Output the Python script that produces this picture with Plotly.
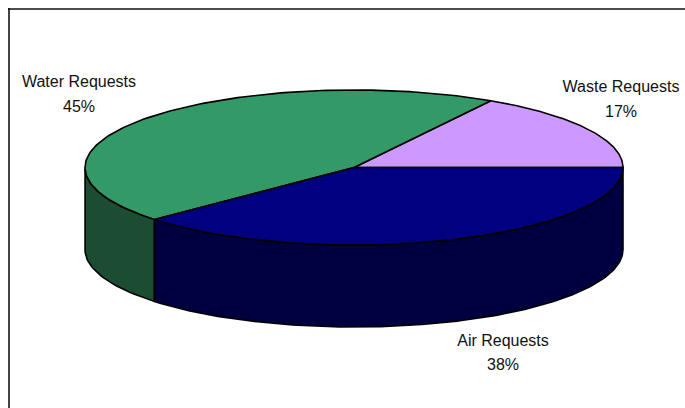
import numpy as np
import plotly.graph_objects as go

categories = ["Waste Requests", "Water Requests", "Air Requests"]
values = [16.51, 45.19, 38.3]
top_colors = ["#CC99FF", "#339966", "#000080"]
side_colors = ["#664D80", "#1C4D33", "#000040"]
label_x = [621, 79, 503]
name_y = [88, 83, 342]
pct_y = [113, 108, 366]

CX, CY, RX, RY, DEPTH = 354, 167.5, 269, 77.5, 82
W, H = 685, 408


def ellipse(t):
    return CX + RX * np.cos(t), CY - RY * np.sin(t)


fig = go.Figure()

edges = np.radians(np.cumsum([0] + values) * 3.6)
arcs = [np.linspace(edges[i], edges[i + 1], 140) for i in range(len(values))]

# Side walls: only the front half of the disc (angles from 180 to 360 degrees).
for arc, color in zip(arcs, side_colors):
    front = arc[(arc >= np.pi) & (arc <= 2 * np.pi)]
    if len(front) < 2:
        continue
    x, y = ellipse(front)
    fig.add_trace(go.Scatter(
        x=np.concatenate([x, x[::-1], x[:1]]),
        y=np.concatenate([y, y[::-1] + DEPTH, y[:1]]),
        mode="lines", fill="toself", fillcolor=color,
        line=dict(color="#000000", width=1.6), hoverinfo="skip",
    ))

# Top faces.
for arc, color, name in zip(arcs, top_colors, categories):
    x, y = ellipse(arc)
    fig.add_trace(go.Scatter(
        x=np.concatenate([[CX], x, [CX]]),
        y=np.concatenate([[CY], y, [CY]]),
        mode="lines", fill="toself", fillcolor=color, name=name,
        line=dict(color="#000000", width=1.6), hoverinfo="name",
    ))

# Labels: name and percentage on separate lines.
font = dict(family="Liberation Sans", size=16, color="#111111")
fig.add_trace(go.Scatter(
    x=label_x, y=name_y, mode="text", text=categories,
    textposition="middle center", textfont=font, hoverinfo="skip",
))
fig.add_trace(go.Scatter(
    x=label_x, y=pct_y, mode="text", text=[f"{round(v)}%" for v in values],
    textposition="middle center", textfont=font, hoverinfo="skip",
))

# Frame.
fig.add_shape(type="line", x0=9, x1=9, y0=8, y1=H, line=dict(color="#444444", width=2))
fig.add_shape(type="line", x0=8, x1=W, y0=9, y1=9, line=dict(color="#111111", width=1.5))

fig.update_layout(
    width=W, height=H, margin=dict(l=0, r=0, t=0, b=0),
    paper_bgcolor="#FFFFFF", plot_bgcolor="#FFFFFF", showlegend=False,
    xaxis=dict(range=[0, W], visible=False, fixedrange=True),
    yaxis=dict(range=[H, 0], visible=False, fixedrange=True),
)
fig.write_html(
    "out.html",
    config=dict(displayModeBar=False),
    post_script="document.documentElement.style.overflow='hidden';document.body.style.margin='0';",
)
